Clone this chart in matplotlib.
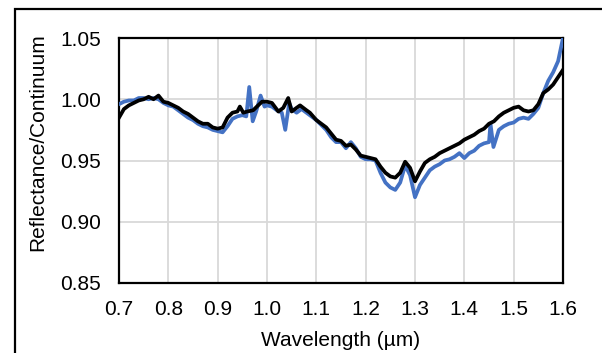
import matplotlib
matplotlib.use("Agg")
import matplotlib.pyplot as plt
from matplotlib.patches import Rectangle

plt.rcParams['font.family'] = ['Liberation Sans', 'DejaVu Sans']

# Black series (wavelength, reflectance/continuum)
wl_black = [0.70, 0.71, 0.72, 0.73, 0.74, 0.75, 0.76, 0.77, 0.78, 0.79,
            0.80, 0.81, 0.82, 0.83, 0.84, 0.85, 0.86, 0.87, 0.88, 0.89,
            0.90, 0.91, 0.92, 0.93, 0.94, 0.945, 0.952, 0.96, 0.972, 0.982,
            0.99, 1.00, 1.01, 1.023, 1.033, 1.043, 1.05, 1.06, 1.067, 1.08,
            1.087, 1.10, 1.11, 1.12, 1.13, 1.14, 1.15, 1.16, 1.17, 1.18,
            1.19, 1.20, 1.21, 1.22, 1.23, 1.24, 1.25, 1.26, 1.27, 1.28,
            1.29, 1.30, 1.31, 1.32, 1.33, 1.34, 1.35, 1.36, 1.37, 1.38,
            1.39, 1.40, 1.41, 1.42, 1.43, 1.44, 1.45, 1.46, 1.47, 1.48,
            1.49, 1.50, 1.51, 1.52, 1.53, 1.54, 1.55, 1.56, 1.57, 1.58,
            1.59, 1.60]
refl_black = [0.985, 0.992, 0.995, 0.997, 0.999, 1.000, 1.002, 1.000, 1.003, 0.998,
              0.997, 0.995, 0.993, 0.990, 0.988, 0.985, 0.982, 0.980, 0.980, 0.977,
              0.976, 0.977, 0.985, 0.989, 0.990, 0.994, 0.989, 0.990, 0.991, 0.995,
              0.998, 0.998, 0.997, 0.990, 0.993, 1.001, 0.990, 0.993, 0.995, 0.991,
              0.989, 0.983, 0.980, 0.977, 0.972, 0.967, 0.966, 0.962, 0.963, 0.959,
              0.954, 0.953, 0.952, 0.951, 0.945, 0.940, 0.937, 0.936, 0.940, 0.949,
              0.944, 0.933, 0.941, 0.948, 0.951, 0.953, 0.956, 0.958, 0.960, 0.962,
              0.964, 0.967, 0.969, 0.971, 0.974, 0.976, 0.980, 0.982, 0.986, 0.989,
              0.991, 0.993, 0.994, 0.991, 0.990, 0.991, 0.996, 1.005, 1.008, 1.012,
              1.018, 1.024]

# Blue series
wl_blue = [0.70, 0.71, 0.72, 0.73, 0.74, 0.75, 0.76, 0.77, 0.78, 0.79,
           0.80, 0.81, 0.82, 0.83, 0.84, 0.85, 0.86, 0.87, 0.88, 0.89,
           0.90, 0.91, 0.92, 0.93, 0.94, 0.95, 0.958, 0.964, 0.971, 0.978,
           0.987, 0.995, 1.00, 1.01, 1.02, 1.03, 1.037, 1.045, 1.05, 1.06,
           1.07, 1.08, 1.09, 1.10, 1.11, 1.12, 1.13, 1.14, 1.15, 1.16,
           1.17, 1.18, 1.19, 1.20, 1.21, 1.22, 1.23, 1.24, 1.25, 1.26,
           1.27, 1.28, 1.29, 1.30, 1.31, 1.32, 1.33, 1.34, 1.35, 1.36,
           1.37, 1.38, 1.39, 1.40, 1.41, 1.42, 1.43, 1.44, 1.45, 1.453,
           1.459, 1.47, 1.48, 1.49, 1.50, 1.51, 1.52, 1.53, 1.54, 1.55,
           1.56, 1.57, 1.58, 1.59, 1.60]
refl_blue = [0.996, 0.998, 0.999, 0.999, 1.001, 1.001, 1.000, 1.001, 1.000, 0.997,
             0.995, 0.994, 0.991, 0.988, 0.985, 0.983, 0.980, 0.978, 0.977, 0.975,
             0.974, 0.973, 0.978, 0.984, 0.986, 0.987, 0.986, 1.010, 0.982, 0.990,
             1.003, 0.994, 0.995, 0.994, 0.991, 0.989, 0.975, 0.997, 0.992, 0.989,
             0.992, 0.989, 0.986, 0.983, 0.979, 0.975, 0.969, 0.965, 0.965, 0.960,
             0.965, 0.960, 0.953, 0.951, 0.951, 0.950, 0.940, 0.932, 0.928, 0.926,
             0.932, 0.946, 0.938, 0.920, 0.930, 0.936, 0.942, 0.945, 0.947, 0.950,
             0.951, 0.953, 0.956, 0.952, 0.956, 0.958, 0.962, 0.964, 0.965, 0.980,
             0.961, 0.975, 0.978, 0.980, 0.981, 0.984, 0.985, 0.984, 0.988, 0.993,
             1.005, 1.015, 1.022, 1.031, 1.050]

x_ticks = [0.7, 0.8, 0.9, 1.0, 1.1, 1.2, 1.3, 1.4, 1.5, 1.6]
y_ticks = [0.85, 0.90, 0.95, 1.00, 1.05]

fig = plt.figure(figsize=(6.02, 3.53), dpi=100)
fig.patch.set_facecolor('white')

# outer chart border
fig.patches.append(Rectangle((15 / 602, -0.2), 1.2, 1 - 9 / 353 + 0.2,
                             transform=fig.transFigure, fill=False,
                             edgecolor='black', linewidth=1.6, zorder=0))

ax = fig.add_axes([119 / 602, 1 - 283 / 353, (563 - 119) / 602, (283 - 38) / 353])
ax.plot(wl_blue, refl_blue, color='#4472C4', linewidth=2.7, zorder=3)
ax.plot(wl_black, refl_black, color='black', linewidth=2.7, zorder=4)

ax.set_xlim(0.7, 1.6)
ax.set_ylim(0.85, 1.05)
ax.set_xticks(x_ticks)
ax.set_xticklabels([f"{v:.1f}" for v in x_ticks])
ax.set_yticks(y_ticks)
ax.set_yticklabels([f"{v:.2f}" for v in y_ticks])
ax.grid(True, color='#D9D9D9', linewidth=1.3)
ax.set_axisbelow(True)
ax.tick_params(axis='both', length=0, labelsize=15, colors='black')
ax.tick_params(axis='y', pad=13)
ax.tick_params(axis='x', pad=12)
for s in ax.spines.values():
    s.set_color('black')
    s.set_linewidth(1.6)

ax.set_xlabel('Wavelength (µm)', fontsize=15, labelpad=9)
ax.set_ylabel('Reflectance/Continuum', fontsize=15)
ax.yaxis.set_label_coords(-0.162, 0.575)

fig.savefig('out.png', dpi=100)
